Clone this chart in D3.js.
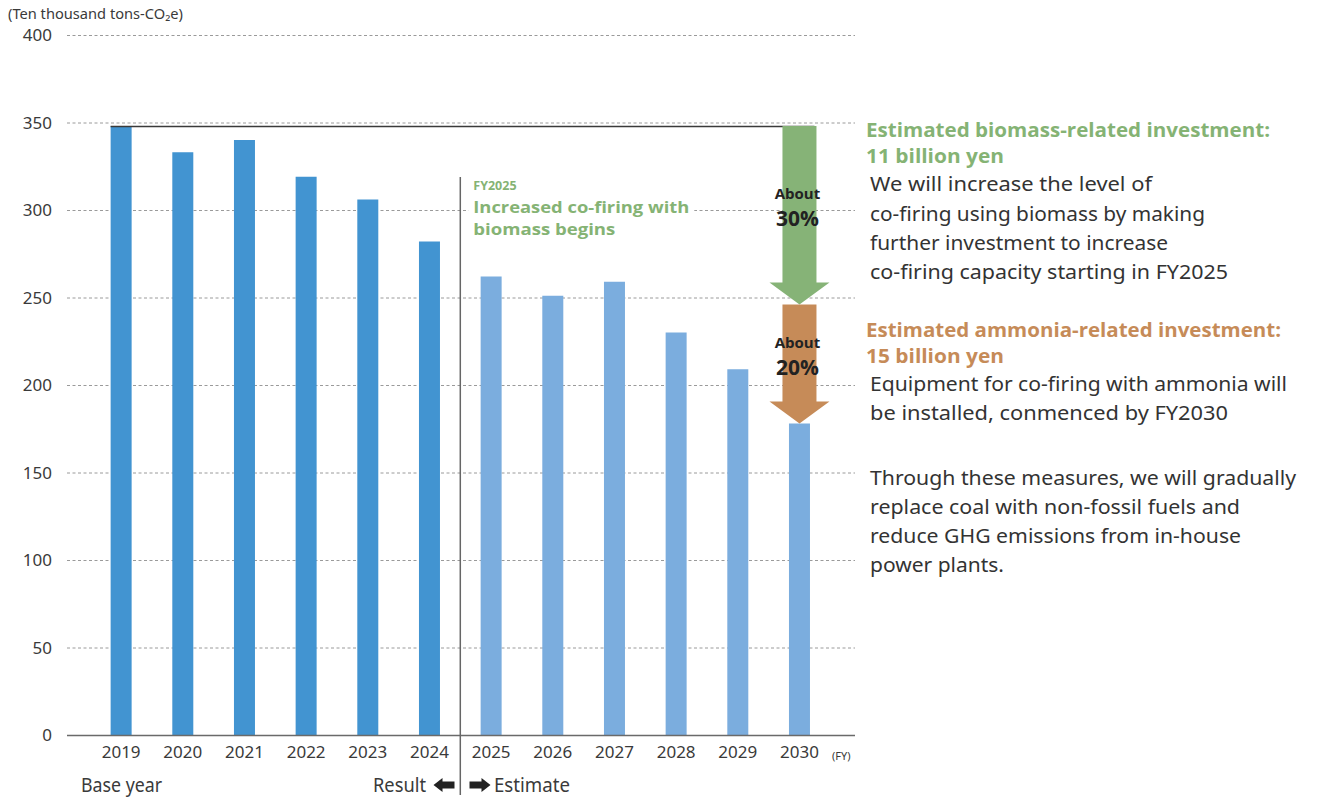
<!DOCTYPE html>
<html>
<head>
<meta charset="utf-8">
<script src="https://cdn.jsdelivr.net/npm/d3@7"></script>
<style>
  html, body { margin: 0; padding: 0; background: #fff; }
  svg { display: block; font-family: "Noto Sans", "Open Sans", sans-serif; }
</style>
</head>
<body>
<svg id="chart" width="1319" height="797"></svg>
<script>
// GHG emissions from in-house power plants (ten thousand tons-CO2e)
const years = ["2019", "2020", "2021", "2022", "2023", "2024", "2025", "2026", "2027", "2028", "2029", "2030"];
const emissions = [348, 333, 340, 319, 306, 282, 262, 251, 259, 230, 209, 178];
const isEstimate = [false, false, false, false, false, false, true, true, true, true, true, true];
const yTicks = [0, 50, 100, 150, 200, 250, 300, 350, 400];

// Reduction steps toward FY2030
const reductionSteps = [
  { from: 348, to: 246, label: ["About", "30%"], color: "#86b377" },
  { from: 246, to: 178, label: ["About", "20%"], color: "#c68b58" }
];

const svg = d3.select("#chart");
const colDark = "#4294d1", colLight = "#7badde";

const y = d3.scaleLinear().domain([0, 400]).range([735, 35]);
const x = d3.scaleBand().domain(years).range([90.3, 830.3])
  .paddingInner(0.6595).paddingOuter(0.3297);

const left = 67, right = 855;

// gridlines
svg.append("g").selectAll("line").data(yTicks.filter(d => d > 0)).join("line")
  .attr("x1", left).attr("x2", right)
  .attr("y1", d => y(d) + 0.5).attr("y2", d => y(d) + 0.5)
  .attr("stroke", "#9a9a9a").attr("stroke-width", 1).attr("stroke-dasharray", "3,2.5");

// y axis labels
const yAxis = d3.axisLeft(y).tickValues(yTicks).tickSize(0).tickPadding(0);
const yg = svg.append("g").attr("transform", "translate(52,0)").call(yAxis);
yg.select(".domain").remove();
yg.selectAll("text").attr("font-size", 17).attr("fill", "#3a3a3a")
  .attr("font-family", "'Noto Sans', sans-serif").attr("dy", "0.34em");

svg.append("text").attr("x", 8).attr("y", 19).attr("font-size", 13.5).attr("fill", "#3a3a3a")
  .attr("textLength", 175).attr("lengthAdjust", "spacingAndGlyphs")
  .text("(Ten thousand tons-CO₂e)");

// bars
svg.append("g").selectAll("rect").data(years).join("rect")
  .attr("x", d => x(d)).attr("width", x.bandwidth())
  .attr("y", (d, i) => y(emissions[i]))
  .attr("height", (d, i) => y(0) - y(emissions[i]))
  .attr("fill", (d, i) => isEstimate[i] ? colLight : colDark);

// baseline
svg.append("line").attr("x1", left).attr("x2", right).attr("y1", 735.5).attr("y2", 735.5)
  .attr("stroke", "#6a6a6a").attr("stroke-width", 1.3);

// x axis labels
const xAxis = d3.axisBottom(x).tickSize(0).tickPadding(0);
const xg = svg.append("g").attr("transform", "translate(0,742)").call(xAxis);
xg.select(".domain").remove();
xg.selectAll("text").attr("font-size", 17).attr("fill", "#3a3a3a")
  .attr("font-family", "'Noto Sans', sans-serif").attr("dy", "0.95em");
svg.append("text").attr("x", 832).attr("y", 760).attr("font-size", 11).attr("fill", "#3a3a3a").text("(FY)");

// base year reference line
const x2030 = x("2030") + x.bandwidth() / 2;
svg.append("line").attr("x1", x("2019")).attr("x2", x2030 + 15)
  .attr("y1", y(emissions[0]) + 0.5).attr("y2", y(emissions[0]) + 0.5)
  .attr("stroke", "#3a3a3a").attr("stroke-width", 1.3);

// result / estimate divider
const divX = (x("2024") + x.bandwidth() + x("2025")) / 2;
svg.append("line").attr("x1", divX).attr("x2", divX).attr("y1", 177).attr("y2", 795)
  .attr("stroke", "#666").attr("stroke-width", 1.5);

// FY2025 callout
svg.append("rect").attr("x", divX + 8).attr("y", 198).attr("width", 226).attr("height", 40).attr("fill", "#fff");
const green = "#85b374", brown = "#c68b58";
const callout = svg.append("g").attr("fill", green).attr("font-weight", 700)
  .attr("font-family", "'Open Sans', sans-serif");
callout.append("text").attr("x", divX + 13).attr("y", 190).attr("font-size", 12.5).text("FY2025");
callout.append("text").attr("x", divX + 13).attr("y", 213).attr("font-size", 16.5).attr("textLength", 216).attr("lengthAdjust", "spacingAndGlyphs").text("Increased co-firing with");
callout.append("text").attr("x", divX + 13).attr("y", 235).attr("font-size", 16.5).attr("textLength", 142).attr("lengthAdjust", "spacingAndGlyphs").text("biomass begins");

// reduction arrows
const shaftW = 34, headW = 60, headH = 22;
reductionSteps.forEach(s => {
  const y0 = y(s.from), y1 = y(s.to);
  const pts = [
    [x2030 - shaftW / 2, y0], [x2030 + shaftW / 2, y0],
    [x2030 + shaftW / 2, y1 - headH], [x2030 + headW / 2, y1 - headH],
    [x2030, y1], [x2030 - headW / 2, y1 - headH],
    [x2030 - shaftW / 2, y1 - headH]
  ];
  svg.append("polygon").attr("points", pts.map(p => p.join(",")).join(" ")).attr("fill", s.color);
  const mid = (y0 + y1 - headH) / 2;
  svg.append("text").attr("x", x2030 - 2).attr("y", mid - 5).attr("text-anchor", "middle")
    .attr("font-size", 15).attr("font-weight", 700).attr("fill", "#222")
    .attr("font-family", "'Open Sans', sans-serif").text(s.label[0]);
  svg.append("text").attr("x", x2030 - 2).attr("y", mid + 22).attr("text-anchor", "middle")
    .attr("font-size", 21).attr("font-weight", 700).attr("fill", "#222")
    .attr("font-family", "'Open Sans', sans-serif").text(s.label[1]);
});

// bottom labels
const bottom = svg.append("g").attr("font-size", 19).attr("fill", "#3a3a3a");
bottom.append("text").attr("x", 81).attr("y", 792)
  .attr("textLength", 81).attr("lengthAdjust", "spacingAndGlyphs").text("Base year");
bottom.append("text").attr("x", 373).attr("y", 792)
  .attr("textLength", 53).attr("lengthAdjust", "spacingAndGlyphs").text("Result");
bottom.append("text").attr("x", 494).attr("y", 792)
  .attr("textLength", 76).attr("lengthAdjust", "spacingAndGlyphs").text("Estimate");
// direction arrows
function dirArrow(cx, cy, dir) {
  const w = 21, h = 14, sh = 7, hw = 9;
  const p = [[-w/2 + hw, -h/2], [-w/2, 0], [-w/2 + hw, h/2], [-w/2 + hw, sh/2], [w/2, sh/2], [w/2, -sh/2], [-w/2 + hw, -sh/2]];
  svg.append("polygon").attr("points", p.map(q => [cx + dir * q[0], cy + q[1]].join(",")).join(" ")).attr("fill", "#222");
}
dirArrow(444, 785, 1);
dirArrow(480, 785, -1);

// right-hand commentary
const tx = 866, bx = 870;
function lines(g, xPos, arr) {
  arr.forEach(([t, yy, len]) => {
    const el = g.append("text").attr("x", xPos).attr("y", yy).text(t);
    if (len) el.attr("textLength", len).attr("lengthAdjust", "spacingAndGlyphs");
  });
}
const titleG = svg.append("g").attr("font-weight", 700).attr("font-size", 20)
  .attr("font-family", "'Open Sans', sans-serif");
lines(titleG.append("g").attr("fill", green), tx, [
  ["Estimated biomass-related investment:", 137, 404],
  ["11 billion yen", 163, 138]
]);
lines(titleG.append("g").attr("fill", brown), tx, [
  ["Estimated ammonia-related investment:", 337, 415],
  ["15 billion yen", 363, 138]
]);
const bodyG = svg.append("g").attr("font-size", 20).attr("fill", "#333")
  .attr("font-family", "'Noto Sans', sans-serif");
lines(bodyG, bx, [
  ["We will increase the level of", 191, 282],
  ["co-firing using biomass by making", 221, 335],
  ["further investment to increase", 250, 298],
  ["co-firing capacity starting in FY2025", 279, 358],
  ["Equipment for co-firing with ammonia will", 391, 417],
  ["be installed, conmenced by FY2030", 420, 358],
  ["Through these measures, we will gradually", 485, 426],
  ["replace coal with non-fossil fuels and", 514, 370],
  ["reduce GHG emissions from in-house", 543, 371],
  ["power plants.", 572, 134]
]);
</script>
</body>
</html>
